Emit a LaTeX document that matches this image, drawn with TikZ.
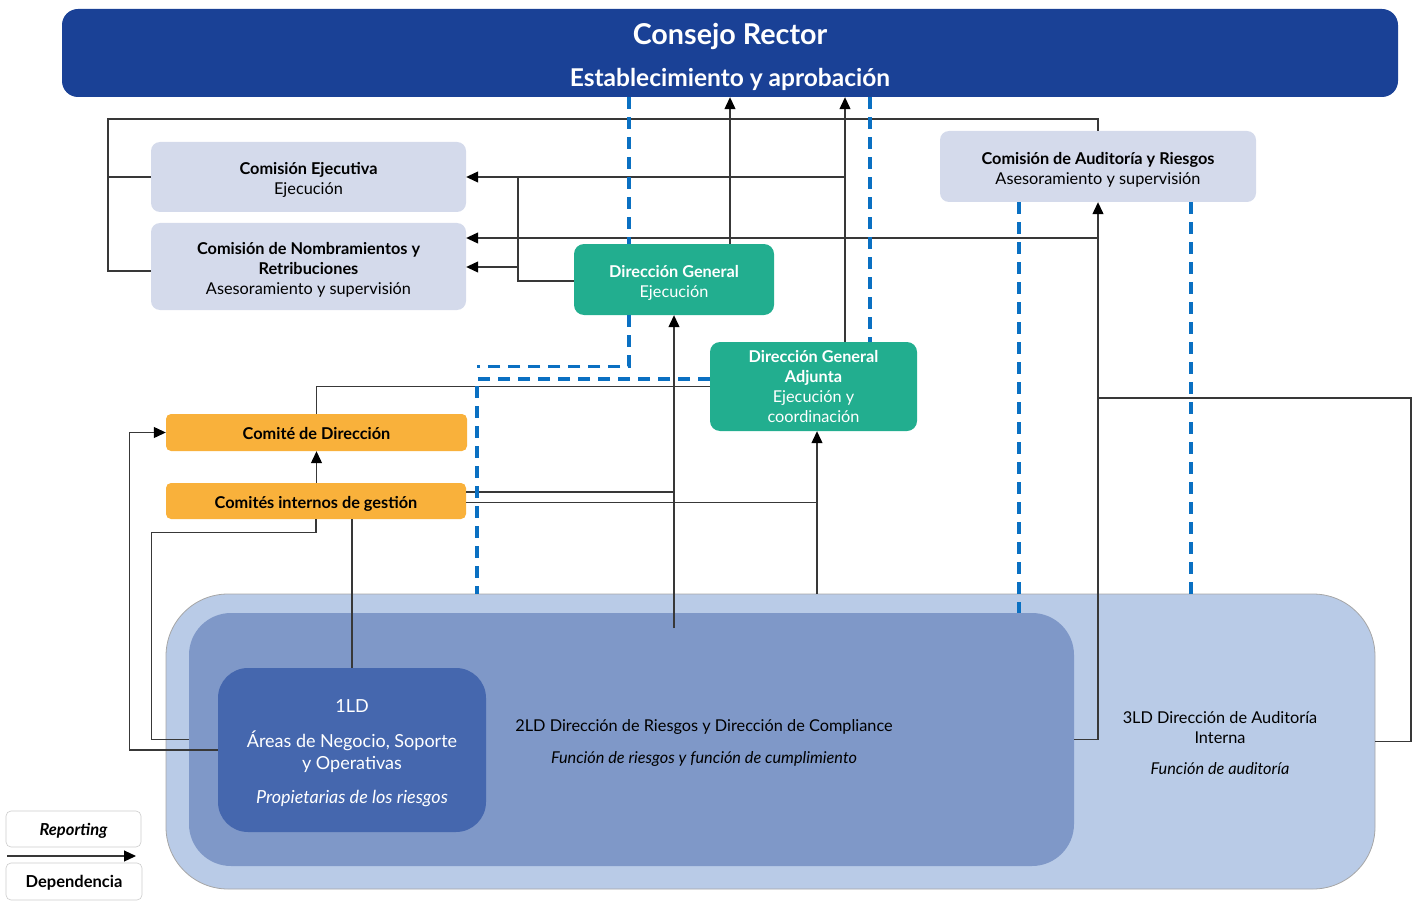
\documentclass[tikz,border=0pt]{standalone}
\usepackage{fontspec}
\setmainfont{Lato}
\usetikzlibrary{arrows.meta,positioning,calc}

\definecolor{consejoblue}{HTML}{1A4196}
\definecolor{dirteal}{HTML}{22AE8F}
\definecolor{comiteorange}{HTML}{F9B13B}
\definecolor{comisionpale}{HTML}{D4DAEB}
\definecolor{ldouter}{HTML}{B9CBE7}
\definecolor{ldinner}{HTML}{7F98C8}
\definecolor{ldfirst}{HTML}{4567AE}
\definecolor{dashblue}{HTML}{0A70C2}

\newcommand{\topgap}[1]{\rule{0pt}{#1}}

\begin{document}
\begin{tikzpicture}[x=1pt, y=-1pt, font=\fontsize{16.3}{20}\selectfont,
  comision/.style={fill=comisionpale, rounded corners=9pt, align=center, inner sep=0pt},
  direccion/.style={fill=dirteal, text=white, rounded corners=10pt, align=center, inner sep=0pt},
  comite/.style={fill=comiteorange, rounded corners=5pt, align=center, inner sep=0pt, font=\bfseries\fontsize{16.3}{20}\selectfont},
  legendbox/.style={draw=black!20, line width=0.6pt, fill=white, rounded corners=5pt, inner sep=0pt},
  conn/.style={draw=black!78, line width=1.2pt},
  arr/.style={conn, -{Triangle[length=12pt,width=11pt,color=black]}},
  dashlink/.style={draw=dashblue, line width=3.2pt, dash pattern=on 12pt off 8pt}]
  \useasboundingbox (0,0) rectangle (1416,904);

  % lines of defence
  \node[fill=ldouter, draw=black!35, line width=0.8pt, rounded corners=62pt, minimum width=1209pt, minimum height=295pt, inner sep=0pt] (outer) at (770.5,741.5) {};
  \node[fill=ldinner, rounded corners=42pt, minimum width=885pt, minimum height=253pt, inner sep=0pt] (inner) at (631.5,739.5) {};
  \node[fill=ldfirst, text=white, rounded corners=30pt, minimum width=268pt, minimum height=164pt, inner sep=0pt, align=center, font=\fontsize{18}{22}\selectfont] (ld1) at (352,750)
    {\topgap{19pt}1LD\\[13pt] Áreas de Negocio, Soporte\\y Operativas\\[12pt] \textit{Propietarias de los riesgos}};
  \node[align=center] (ld2) at (704,740) {\topgap{17pt}2LD Dirección de Riesgos y Dirección de Compliance\\[12pt] \textit{Función de riesgos y función de cumplimiento}};
  \node[align=center] (ld3) at (1220,742) {\topgap{15pt}3LD Dirección de Auditoría\\Interna\\[11pt] \textit{Función de auditoría}};

  % governing bodies
  \node[fill=consejoblue, text=white, rounded corners=16pt, minimum width=1336pt, minimum height=88pt, inner sep=0pt, align=center, font=\bfseries\fontsize{24.5}{42}\selectfont] (consejo) at (730,53)
    {{\fontsize{28.7}{42}\selectfont\topgap{29pt}Consejo Rector}\\Establecimiento y aprobación};
  \node[comision, minimum width=315pt, minimum height=70pt] (ce) at (308.5,177) {\topgap{17pt}\textbf{Comisión Ejecutiva}\\Ejecución};
  \node[comision, minimum width=315pt, minimum height=87pt] (cnr) at (308.5,266.5) {\topgap{18pt}\textbf{Comisión de Nombramientos y}\\\textbf{Retribuciones}\\Asesoramiento y supervisión};
  \node[comision, minimum width=316pt, minimum height=71pt] (car) at (1098,166.5) {\topgap{18pt}\textbf{Comisión de Auditoría y Riesgos}\\Asesoramiento y supervisión};
  \node[direccion, minimum width=200pt, minimum height=71pt] (dg) at (674,279.5) {\topgap{18pt}\textbf{Dirección General}\\Ejecución};
  \node[direccion, minimum width=207pt, minimum height=89pt] (dga) at (813.5,386.5) {\textbf{Dirección General}\\\textbf{Adjunta}\\Ejecución y\\coordinación};
  \node[comite, minimum width=301pt, minimum height=37pt] (cd) at (316.5,432.5) {\topgap{15pt}Comité de Dirección};
  \node[comite, minimum width=300pt, minimum height=36pt] (ci) at (316,501) {\topgap{17pt}Comités internos de gestión};

  % legend
  \node[legendbox, minimum width=135pt, minimum height=36pt, font=\bfseries\itshape\fontsize{16.5}{20}\selectfont] (rep) at (73.5,829) {\topgap{15pt}Reporting};
  \node[legendbox, minimum width=136pt, minimum height=37pt, font=\bfseries\fontsize{16.5}{20}\selectfont] (dep) at (74,881.5) {\topgap{15pt}Dependencia};
  \coordinate (legl) at (7,856);
  \coordinate (legr) at (136,856);
  \draw[arr] (legl) -- (legr);

  % helper points
  \coordinate (topbus) at (108,119);
  \coordinate (jn) at (518,267);
  \coordinate (c238) at ([yshift=28.5pt]cnr.east);
  \coordinate (audbus) at (1411,398);
  \coordinate (dgfoot) at (674,628);
  \coordinate (dgax) at ([xshift=3.5pt]dga.south);
  \coordinate (ciup) at ([yshift=9pt]ci.east);
  \coordinate (cilow) at ([yshift=-1.5pt]ci.east);

  % reporting and dependence lines
  \draw[conn] ([yshift=-4.5pt]cnr.west) -| (topbus) -| (car.north);
  \draw[conn] (ce.west) -- (ce.west -| topbus);
  \draw[arr] ([xshift=56pt]dg.north) -- ([xshift=56pt]dg.north |- consejo.south);
  \draw[arr] ([xshift=31.5pt]dga.north) -- ([xshift=31.5pt]dga.north |- consejo.south);
  \draw[arr] ([xshift=31.5pt]dga.north |- ce.east) -- (ce.east);
  \draw[conn] ([yshift=-1.5pt]dg.west) -| (jn |- ce.east);
  \draw[arr] (jn) -- (jn -| cnr.east);
  \draw[arr] (inner.east) -| (car.south);
  \draw[arr] (car.south |- c238) -- (c238);
  \draw[conn] (outer.east) -- (outer.east -| audbus) -- (audbus) -- (audbus -| car.south);
  \draw[arr] (dgfoot) -- (dg.south);
  \draw[conn] (ciup) -- (ciup -| dgfoot);
  \draw[arr] (cilow) -| (dgax);
  \draw[conn] (dgax |- outer.north) -- (dgax |- cilow);
  \draw[conn] (cd.north) |- (dga.west);
  \draw[arr] (cd.south |- ci.north) -- (cd.south);
  \draw[conn] (ci.south) -- ++(0,13) -| ([xshift=-37pt]inner.west) -- (inner.west);
  \draw[conn] (ld1.north |- ci.south) -- (ld1.north);
  \draw[arr] (ld1.west) -- ++(-88,0) |- (cd.west);

  % supervision (dashed)
  \draw[dashlink] ([xshift=-45pt]dg.north |- consejo.south) -- ([xshift=-45pt]dg.north);
  \draw[dashlink] ([xshift=-45pt]dg.south) -- ++(0,51) -- ++(-152,0);
  \draw[dashlink] ([yshift=7.5pt]dga.west) -| ([yshift=7.5pt]dga.west -| 477,0) -- (477,0 |- outer.north);
  \draw[dashlink] ([xshift=56.5pt]dga.north |- consejo.south) -- ([xshift=56.5pt]dga.north);
  \draw[dashlink] ([xshift=-79pt]car.south) -- ([xshift=-79pt]car.south |- inner.north);
  \draw[dashlink] ([xshift=93pt]car.south) -- ([xshift=93pt]car.south |- outer.north);
\end{tikzpicture}
\end{document}
